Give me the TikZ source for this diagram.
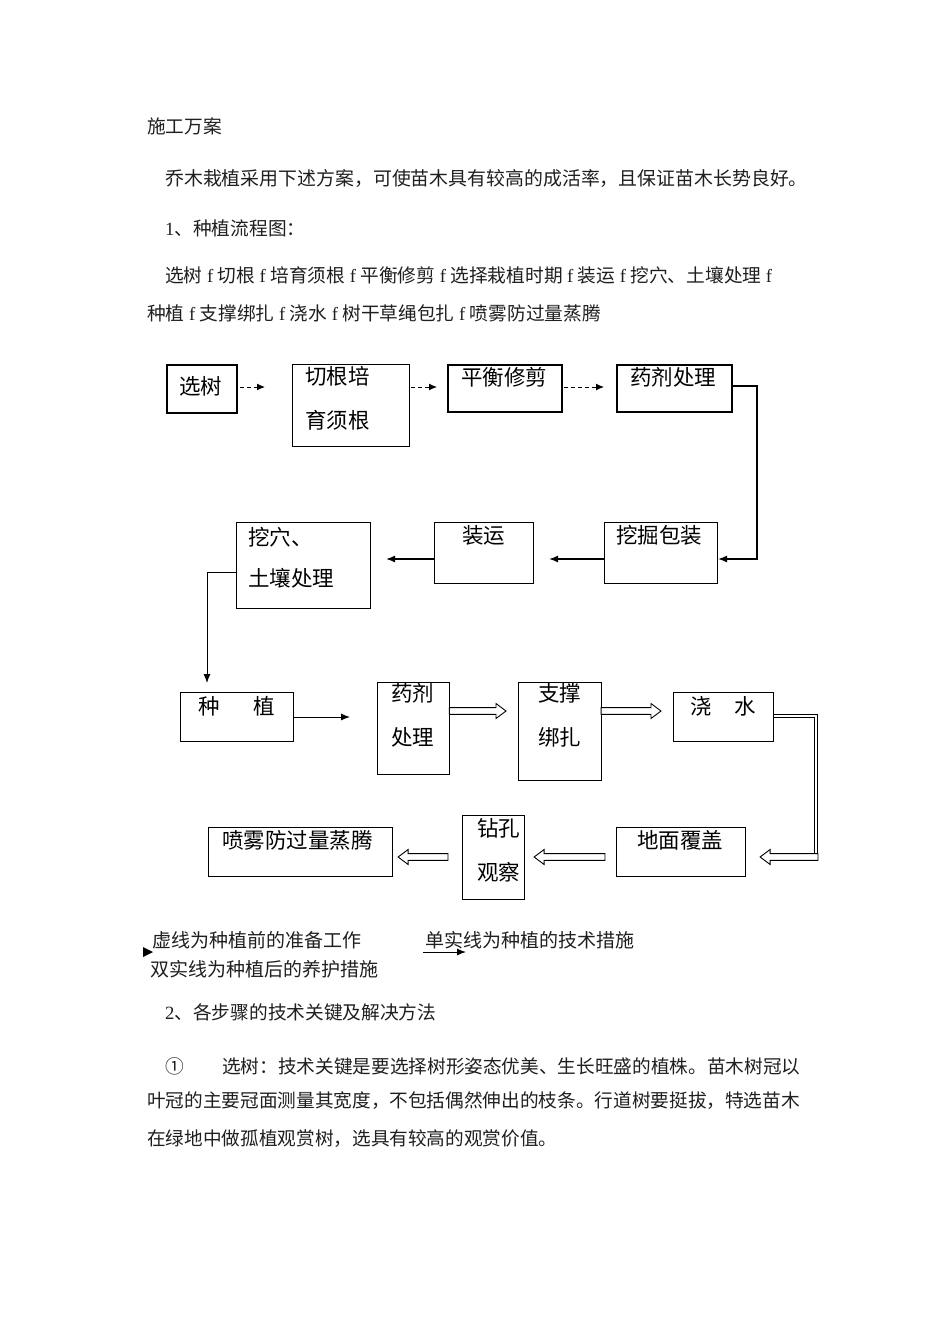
\documentclass[tikz,border=0pt]{standalone}
\usepackage{fontspec}
\setmainfont{Liberation Serif}
\newfontfamily\cjk{Noto Sans CJK SC}
\newfontfamily\lserif{Liberation Serif}
\usetikzlibrary{arrows.meta,calc}
\newcommand\ff{\hspace{4.5pt}{\lserif f}\hspace{4.5pt}}
% hollow block arrow between two points on one horizontal line: #1 start, #2 tip
\newcommand\blockarrow[2]{%
  \draw[hollowline] let \p1=(#1), \p2=(#2), \n2={\x2-10*sign(\x2-\x1)} in
    (\x1,\y1+3.4pt) -- ({\n2*1pt},\y1+3.4pt) -- ({\n2*1pt},\y1+7.5pt) -- (\x2,\y1)
    -- ({\n2*1pt},\y1-7.5pt) -- ({\n2*1pt},\y1-3.4pt) -- (\x1,\y1-3.4pt) -- cycle;}
\begin{document}
\begin{tikzpicture}[x=1pt,y=-1pt,
  box/.style={draw, line width=1.1pt, inner sep=0pt, anchor=north west},
  lbl/.style={font=\cjk\fontsize{21.5}{24}\selectfont, inner sep=0pt, anchor=west},
  txt/.style={font=\cjk\fontsize{18.7}{22}\selectfont, inner sep=0pt, anchor=west, text=black!88},
  dasharr/.style={line width=1pt, dash pattern=on 4pt off 3pt, -{Latex[length=8pt,width=7pt]}},
  solarr/.style={line width=1.2pt, -{Latex[length=9pt,width=7pt]}},
  hollowline/.style={line width=0.9pt, line join=miter, fill=white},
  dblline/.style={double, double distance=2.5pt, line width=0.9pt},
]
\fill[white] (0,0) rectangle (950,1318);
\useasboundingbox (0,0) rectangle (950,1318);

% ---------- body text ----------
\node[txt] (h1) at (147,126) {施工万案};
\node[txt, font=\cjk\fontsize{18.9}{22}\selectfont] (p1) at (165,178) {乔木栽植采用下述方案，可使苗木具有较高的成活率，且保证苗木长势良好。};
\node[txt] (h2) at (165,228) {{\lserif 1}、种植流程图：};
\node[txt] (p2) at (165,275) {选树\ff 切根\ff 培育须根\ff 平衡修剪\ff 选择栽植时期\ff 装运\ff 挖穴、土壤处理\ff};
\node[txt] (p3) at (147,313) {种植\ff 支撑绑扎\ff 浇水\ff 树干草绳包扎\ff 喷雾防过量蒸腾};

% ---------- boxes ----------
\node[box, line width=2pt, minimum width=70pt, minimum height=48pt] (b1) at (166,364) {};
\node[box, minimum width=117pt, minimum height=82pt] (b2) at (292,364) {};
\node[box, line width=1.5pt, minimum width=114pt, minimum height=47pt] (b3) at (447,364) {};
\node[box, line width=1.5pt, minimum width=115pt, minimum height=47pt] (b4) at (616,364) {};
\node[box, minimum width=113pt, minimum height=61pt] (b5) at (604,522) {};
\node[box, minimum width=99pt, minimum height=61pt] (b6) at (434,522) {};
\node[box, minimum width=134pt, minimum height=86pt] (b7) at (236,522) {};
\node[box, minimum width=113pt, minimum height=49pt] (b8) at (180,692) {};
\node[box, line width=1.4pt, minimum width=72pt, minimum height=92pt] (b9) at (377,682) {};
\node[box, minimum width=83pt, minimum height=98pt] (b10) at (518,682) {};
\node[box, minimum width=100pt, minimum height=49pt] (b11) at (673,692) {};
\node[box, minimum width=129pt, minimum height=49pt] (b12) at (616,827) {};
\node[box, minimum width=62pt, minimum height=84pt] (b13) at (462,815) {};
\node[box, minimum width=184pt, minimum height=49pt] (b14) at (208,827) {};

% ---------- box labels ----------
\node[lbl] (l1) at (179,386) {选树};
\node[lbl] (l2a) at (305,376) {切根培};
\node[lbl] (l2b) at (305,420) {育须根};
\node[lbl] (l3) at (461,377) {平衡修剪};
\node[lbl] (l4) at (630,377) {药剂处理};
\node[lbl] (l5) at (616,535) {挖掘包装};
\node[lbl] (l6) at (462,535) {装运};
\node[lbl] (l7a) at (248,537) {挖穴、};
\node[lbl] (l7b) at (248,578) {土壤处理};
\node[lbl] (l8a) at (198,706) {种};
\node[lbl] (l8b) at (253,706) {植};
\node[lbl] (l9a) at (391,693) {药剂};
\node[lbl] (l9b) at (391,737) {处理};
\node[lbl] (l10a) at (538,693) {支撑};
\node[lbl] (l10b) at (538,737) {绑扎};
\node[lbl] (l11a) at (690,706) {浇};
\node[lbl] (l11b) at (734,706) {水};
\node[lbl] (l12) at (637,840) {地面覆盖};
\node[lbl] (l13a) at (477,828) {钻孔};
\node[lbl] (l13b) at (477,872) {观察};
\node[lbl] (l14) at (222,840) {喷雾防过量蒸腾};

% ---------- connectors ----------
\coordinate (r1) at (0,387);
\draw[dasharr, shorten <=2pt, shorten >=27pt] (b1.east |- r1) -- (b2.west |- r1);
\draw[dasharr, shorten <=1pt, shorten >=10pt] (b2.east |- r1) -- (b3.west |- r1);
\draw[dasharr, shorten <=1pt, shorten >=12pt] (b3.east |- r1) -- (b4.west |- r1);

\coordinate (c1) at (757,0);
\coordinate (r2) at (0,559);
\draw[solarr] (b4.east |- 0,386) -| (c1 |- r2) -- (b5.east |- r2);
\draw[solarr, shorten >=15pt] (b5.west |- r2) -- (b6.east |- r2);
\draw[solarr, shorten >=15pt] (b6.west |- r2) -- (b7.east |- r2);
\coordinate (c2) at (207,572);
\draw[solarr, line width=1pt, shorten >=9pt] (b7.west |- c2) -| (c2 |- b8.north);

\coordinate (r3) at (0,717);
\draw[solarr, line width=1pt, shorten >=27pt] (b8.east |- r3) -- (b9.west |- r3);
\coordinate (r4) at (0,711);
\blockarrow{$(b9.east |- r4)+(-1,0)$}{$(b10.west |- r4)+(-12,0)$}
\blockarrow{$(b10.east |- r4)+(-1,0)$}{$(b11.west |- r4)+(-12,0)$}

\coordinate (c3) at (816,716);
\coordinate (c4) at (816,853);
\coordinate (r5) at (0,857);
\draw[dblline] (b11.east |- c3) -- (c3) -- (c4);
\coordinate (c5) at (818,857);
\blockarrow{c5}{$(b12.east |- r5)+(14,0)$}
\blockarrow{$(b12.west |- r5)+(-11,0)$}{$(b13.east |- r5)+(9,0)$}
\blockarrow{$(b13.west |- r5)+(-14,0)$}{$(b14.east |- r5)+(5,0)$}

% ---------- legend ----------
\fill (143,947) -- (153,952) -- (143,957) -- cycle;
\node[txt, font=\cjk\fontsize{19}{22}\selectfont] (g1) at (152,940) {虚线为种植前的准备工作};
\node[txt, font=\cjk\fontsize{19}{22}\selectfont] (g2) at (425,940) {单实线为种植的技术措施};
\coordinate (g2s) at (423,952);
\coordinate (g2e) at (466,952);
\draw[solarr, line width=1pt] (g2s) -- (g2e);
\node[txt, font=\cjk\fontsize{19}{22}\selectfont] (g3) at (150,969) {双实线为种植后的养护措施};

% ---------- lower text ----------
\node[txt] (h3) at (165,1012) {{\lserif 2}、各步骤的技术关键及解决方法};
\node[txt] (c1n) at (165,1066) {①};
\node[txt, font=\cjk\fontsize{18.65}{22}\selectfont] (p4) at (222,1066) {选树：技术关键是要选择树形姿态优美、生长旺盛的植株。苗木树冠以};
\node[txt, font=\cjk\fontsize{18.65}{22}\selectfont] (p5) at (147,1101) {叶冠的主要冠面测量其宽度，不包括偶然伸出的枝条。行道树要挺拔，特选苗木};
\node[txt, font=\cjk\fontsize{18.65}{22}\selectfont] (p6) at (147,1139) {在绿地中做孤植观赏树，选具有较高的观赏价值。};
\end{tikzpicture}
\end{document}
